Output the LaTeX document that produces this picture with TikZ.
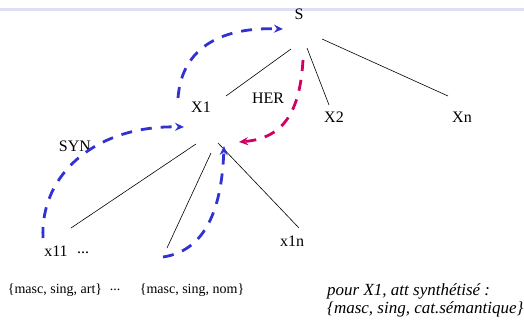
\documentclass[tikz,border=0pt]{standalone}
\usepackage{fontspec}
\setmainfont{Liberation Serif}
\usetikzlibrary{arrows.meta}

\definecolor{synblue}{RGB}{50,50,210}
\definecolor{hermag}{RGB}{208,0,100}
\definecolor{barlav}{RGB}{222,222,246}

\begin{document}
\begin{tikzpicture}[x=1pt,y=-1pt,
    lbl/.style={font=\fontsize{16}{18}\selectfont, inner sep=0pt},
    feat/.style={font=\fontsize{14}{16}\selectfont, inner sep=0pt},
    edge/.style={black, line width=0.6pt},
    synarr/.style={synblue, line width=2.8pt, dash pattern=on 11pt off 9pt,
      -{Stealth[length=9pt,width=8pt]}},
    herarr/.style={synarr, hermag}]
  \useasboundingbox (0,0) rectangle (524,321);
  \draw[barlav, line width=3pt] (0,9.7) -- (524,9.7);

  % tree labels
  \node[lbl] (S)   at (299,14)  {S};
  \node[lbl] (X1)  at (201,107) {X1};
  \node[lbl] (X2)  at (334,117) {X2};
  \node[lbl] (Xn)  at (462,117) {Xn};
  \node[lbl] (x11) at (56,251)  {x11};
  \node[lbl] (dots) at (83,253) {...};
  \node[lbl] (x1n) at (292,241) {x1n};
  \node[lbl] (her) at (268,98)  {HER};
  \node[lbl] (syn) at (75,146)  {SYN};

  % attach points of the branches
  \coordinate (S-a) at (291,49);  \coordinate (X1-t) at (226,96);
  \coordinate (S-b) at (307,48);  \coordinate (X2-t) at (329,105);
  \coordinate (S-c) at (322,39);  \coordinate (Xn-t) at (448,96);
  \coordinate (X1-a) at (196,144); \coordinate (x11-t) at (71,228);
  \coordinate (X1-b) at (211,153); \coordinate (nom-t) at (167,248);
  \coordinate (X1-c) at (218,143); \coordinate (x1n-t) at (299,228);

  \draw[edge] (S-a) -- (X1-t);
  \draw[edge] (S-b) -- (X2-t);
  \draw[edge] (S-c) -- (Xn-t);
  \draw[edge] (X1-a) -- (x11-t);
  \draw[edge] (X1-b) -- (nom-t);
  \draw[edge] (X1-c) -- (x1n-t);

  % features
  \node[feat] (art)  at (55,290)  {\{masc, sing, art\}};
  \node[feat] (fdots) at (115,290) {...};
  \node[feat] (nom)  at (192,290) {\{masc, sing, nom\}};
  \node[feat, anchor=north west, align=left, font=\fontsize{17}{18}\selectfont\itshape]
    (note) at (327,283) {pour X1, att synthétisé :\\\{masc, sing, cat.sémantique\}};

  % percolation arrows
  \coordinate (up-s)  at (178,98);  \coordinate (up-e)  at (283,29);
  \coordinate (syn-s) at (43,238);  \coordinate (syn-e) at (184,127);
  \coordinate (nom-s) at (163,257); \coordinate (nom-e) at (224,146);
  \coordinate (her-s) at (303,60);  \coordinate (her-e) at (239,142);
  \draw[synarr] (up-s) .. controls (182,45) and (225,27) .. (up-e);
  \draw[synarr] (syn-s) .. controls (40,175) and (95,125) .. (syn-e);
  \draw[synarr] (nom-s) .. controls (210,250) and (222,200) .. (nom-e);
  \draw[herarr] (her-s) .. controls (300,110) and (285,138) .. (her-e);
\end{tikzpicture}
\end{document}
